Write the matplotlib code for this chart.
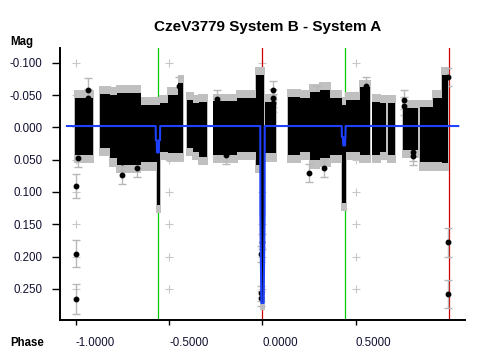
#!/usr/bin/env python3
"""
Phase plot of CzeV3779, System B - System A (eclipse model over phased photometry).
"""
import matplotlib
matplotlib.use("Agg")
import matplotlib.pyplot as plt

plt.rcParams["font.family"] = ["Liberation Sans", "DejaVu Sans"]
plt.rcParams["axes.unicode_minus"] = False

TITLE = "CzeV3779 System B - System A"

# ── observing nights: phase range + magnitude spread ──
night_lo = [-1.005, -0.871, -0.817, -0.780, -0.653, -0.565, -0.549, -0.506, -0.450,
            -0.404, -0.372, -0.340, -0.264, -0.136, -0.034, -0.009, 0.014, 0.138,
            0.202, 0.256, 0.309, 0.363, 0.427, 0.449, 0.524, 0.589, 0.632, 0.674,
            0.755, 0.846, 0.916, 0.962]
night_hi = [-0.908, -0.817, -0.780, -0.653, -0.565, -0.549, -0.506, -0.450, -0.425,
            -0.372, -0.340, -0.297, -0.136, -0.034, -0.009, 0.011, 0.074, 0.202,
            0.256, 0.309, 0.363, 0.427, 0.449, 0.524, 0.578, 0.632, 0.664, 0.712,
            0.835, 0.916, 0.962, 0.996]
night_top = [-0.045, -0.052, -0.050, -0.053, -0.035, -0.035, -0.038, -0.050, -0.069,
             -0.042, -0.038, -0.039, -0.040, -0.045, -0.081, -0.081, -0.039, -0.047,
             -0.045, -0.055, -0.058, -0.045, -0.035, -0.042, -0.062, -0.039, -0.038,
             -0.038, -0.030, -0.031, -0.045, -0.081]
night_bot = [0.043, 0.032, 0.048, 0.058, 0.054, 0.120, 0.038, 0.040, 0.040,
             0.032, 0.038, 0.046, 0.043, 0.038, 0.058, 0.270, 0.040, 0.043,
             0.038, 0.051, 0.048, 0.043, 0.117, 0.038, 0.043, 0.043, 0.038,
             0.043, 0.035, 0.054, 0.054, 0.055]

# isolated measurements with their error bars
pt_phase = [-1.000, -1.000, -1.002, -0.933, -0.935, -0.989, -0.754, -0.752, -0.672,
            -0.447, -0.243, -0.243, -0.196, 0.059, 0.059, 0.059, 0.292, 0.555,
            0.251, 0.331, 0.760, 0.760, 0.810, 0.810, 0.998, 0.995, 0.997,
            -0.004, -0.005, -0.005, -0.005]
pt_mag = [0.091, 0.196, 0.266, -0.058, -0.046, 0.048, 0.053, 0.074, 0.063,
          -0.064, -0.044, -0.033, 0.043, -0.058, -0.046, -0.038, -0.050, -0.064,
          0.071, 0.063, -0.043, -0.033, 0.038, 0.045, -0.078, 0.178, 0.258,
          0.177, 0.196, 0.257, 0.265]
pt_err = [0.019, 0.021, 0.023, 0.018, 0.014, 0.014, 0.014, 0.014, 0.014,
          0.014, 0.014, 0.014, 0.014, 0.014, 0.014, 0.014, 0.014, 0.014,
          0.014, 0.014, 0.014, 0.014, 0.014, 0.014, 0.014, 0.022, 0.022,
          0.012, 0.012, 0.012, 0.012]

# eclipse model (blue)
model_phase = [-1.048, -0.572, -0.571, -0.566, -0.565, -0.555, -0.554, -0.549, -0.548,
               -0.0107, -0.0105, -0.005, 0.007, 0.0125, 0.0129,
               0.426, 0.427, 0.433, 0.434, 0.444, 0.445, 0.446, 0.447, 1.051]
model_mag = [-0.002, -0.002, 0.020, 0.020, 0.039, 0.039, 0.020, 0.020, -0.002,
             -0.002, 0.133, 0.272, 0.272, 0.133, -0.002,
             -0.002, 0.015, 0.015, 0.028, 0.028, 0.015, 0.015, -0.002, -0.002]

# reference phases
red_phases = [0.0, 1.0]
green_phases = [-0.559, 0.441]

x_ticks = [-1.0, -0.5, 0.0, 0.5]
y_ticks = [-0.100, -0.050, 0.000, 0.050, 0.100, 0.150, 0.200, 0.250]


fig = plt.figure(figsize=(4.8, 3.6), dpi=100)
ax = fig.add_axes([0.125, 0.1111, 0.84375, 0.7556])

# light grey "+" at every tick crossing
for xt in x_ticks:
    ax.plot([xt] * len(y_ticks), y_ticks, "+", color="#c8c8c8", ms=6, mew=0.8, zorder=1)

for p in red_phases:
    ax.axvline(p, color="#d00000", lw=0.9, zorder=2)
for p in green_phases:
    ax.axvline(p, color="#00cc00", lw=0.9, zorder=2)

# nights: grey error-bar fringe, then the black cloud of points
for lo, hi, top, bot in zip(night_lo, night_hi, night_top, night_bot):
    ax.bar(lo - 0.003, (bot + 0.013) - (top - 0.012), width=(hi - lo) + 0.006,
           bottom=top - 0.012, align="edge", color="#c0c0c0", lw=0, zorder=3)
for lo, hi, top, bot in zip(night_lo, night_hi, night_top, night_bot):
    ax.bar(lo, bot - top, width=hi - lo, bottom=top, align="edge",
           color="black", lw=0, zorder=4)

# single points: grey error bars sit under the black clouds, dots on top
ax.errorbar(pt_phase, pt_mag, yerr=pt_err, fmt="none", ecolor="#b8b8b8",
            elinewidth=1, capsize=3, capthick=1, zorder=3.5)
ax.plot(pt_phase, pt_mag, "o", color="black", ms=3.2, zorder=5)

ax.plot(model_phase, model_mag, color="#1e40ff", lw=1.5, zorder=6)

ax.set_xlim(-1.0853, 1.0874)
ax.set_ylim(0.2983, -0.1228)

ax.set_xticks(x_ticks, [f"{v:.4f}" for v in x_ticks])
ax.set_yticks(y_ticks, [f"{v:.3f}" for v in y_ticks])
plt.setp(ax.get_xticklabels(), ha="left")
ax.tick_params(axis="y", length=5.8, width=1, pad=7, labelsize=8.3, labelcolor="#101030")
ax.tick_params(axis="x", length=3.6, width=1, pad=8.5, labelsize=8.3, labelcolor="#101030")

for side in ("top", "right"):
    ax.spines[side].set_visible(False)
for side in ("left", "bottom"):
    ax.spines[side].set_linewidth(1.4)

fig.text(268 / 480, 1 - 27 / 360, TITLE, ha="center", va="center",
         fontsize=11, fontweight="bold")
fig.text(10 / 480, 1 - 42 / 360, "Mag", ha="left", va="center", fontsize=8.3, fontweight="bold")
fig.text(10 / 480, 1 - 343 / 360, "Phase", ha="left", va="center", fontsize=8.3, fontweight="bold")

fig.savefig("out.png", dpi=100)
